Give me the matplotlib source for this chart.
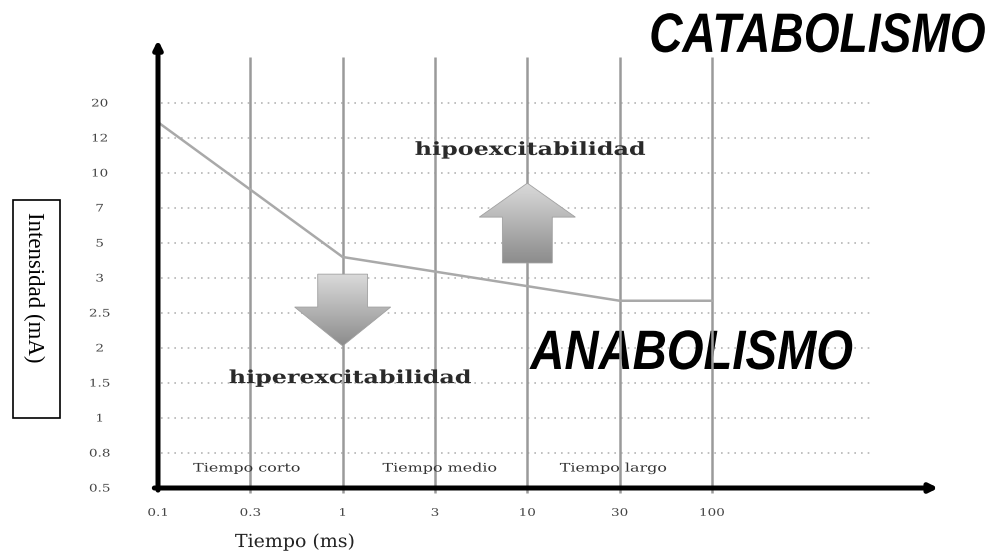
import matplotlib.pyplot as plt
import numpy as np
from matplotlib.patches import Polygon, Rectangle
from matplotlib.colors import LinearSegmentedColormap
from matplotlib.transforms import Affine2D
import matplotlib.patheffects as pe

# === MARK: Data
x_labels = ['0.1', '0.3', '1', '3', '10', '30', '100']
y_labels = ['0.5', '0.8', '1', '1.5', '2', '2.5', '3', '5', '7', '10', '12', '20']
# curve (intensity-duration), in tick-index units
curve_x = [0, 2, 5, 6]
curve_y = [10.45, 6.6, 5.35, 5.35]
zones = ['Tiempo corto', 'Tiempo medio', 'Tiempo largo']
zone_x = [0.96, 3.05, 4.93]


# === MARK: Helper: stretch text horizontally (around centre or right edge)
class Stretch(pe.AbstractPathEffect):
    def __init__(self, sx, anchor='center'):
        super().__init__()
        self.sx = sx
        self.anchor = anchor

    def draw_path(self, renderer, gc, tpath, affine, rgbFace=None):
        ext = tpath.get_extents()
        cx = ext.x1 if self.anchor == 'right' else (ext.x0 + ext.x1) / 2
        t = Affine2D().translate(-cx, 0).scale(self.sx, 1).translate(cx, 0)
        renderer.draw_path(gc, tpath, t + affine, rgbFace)


# === MARK: Figure
fig = plt.figure(figsize=(9.92, 5.52), dpi=100)
ax = fig.add_axes([158 / 992, 64 / 552, 712 / 992, 448 / 552])
ax.set_xlim(0, 712 / 92.33)
ax.set_ylim(0, 448 / 35)
for s in ax.spines.values():
    s.set_visible(False)

serif = 'DejaVu Serif'

# dotted horizontal grid
ax.hlines(range(1, len(y_labels)), 0.03, 7.71, colors='#b5b5b5',
          linestyles=(0, (1, 3)), lw=1.2, zorder=1)
# vertical gray lines at each time tick
ax.vlines(range(1, len(x_labels)), -0.15, 12.31, colors='#9a9a9a',
          lw=1.8, zorder=2, clip_on=False)

# curve
ax.plot(curve_x, curve_y, color='#a9a9a9', lw=1.8, zorder=2.5)

# ticks
ax.set_xticks(range(len(x_labels)))
ax.set_xticklabels(x_labels, fontfamily=serif, fontsize=7.5, color='#444444')
ax.tick_params(axis='x', length=0, pad=15)
ax.set_yticks(range(len(y_labels)))
ax.set_yticklabels(y_labels, fontfamily=serif, fontsize=7.5, color='#444444')
for lbl in ax.get_yticklabels():
    lbl.set_ha('center')
ax.tick_params(axis='y', length=0, pad=42)
for lbl in ax.get_xticklabels() + ax.get_yticklabels():
    lbl.set_path_effects([Stretch(1.3)])

# axes with arrows
ax.annotate('', xy=(0, 12.8), xytext=(0, -0.06), annotation_clip=False,
            arrowprops=dict(arrowstyle='-|>', lw=3.6, color='black',
                            mutation_scale=12, shrinkA=0, shrinkB=0))
ax.annotate('', xy=(8.45, 0), xytext=(-0.04, 0), annotation_clip=False,
            arrowprops=dict(arrowstyle='-|>', lw=3.6, color='black',
                            mutation_scale=12, shrinkA=0, shrinkB=0))

# === MARK: Gradient block arrows
cmap = LinearSegmentedColormap.from_list('g', ['#dadada', '#8c8c8c'])


def grad_arrow(xc, y_tail, y_tip, head_len, head_w, shaft_w):
    d = np.sign(y_tip - y_tail)
    hb = y_tip - d * head_len
    pts = [(xc - shaft_w, y_tail), (xc + shaft_w, y_tail), (xc + shaft_w, hb),
           (xc + head_w, hb), (xc, y_tip), (xc - head_w, hb), (xc - shaft_w, hb)]
    poly = Polygon(pts, closed=True, facecolor='none', edgecolor='#a0a0a0',
                   lw=0.6, zorder=4)
    ax.add_patch(poly)
    lo, hi = min(y_tail, y_tip), max(y_tail, y_tip)
    grad = np.linspace(0, 1, 200).reshape(-1, 1)
    im = ax.imshow(grad, extent=[xc - head_w, xc + head_w, lo, hi], cmap=cmap,
                   aspect='auto', origin='upper', zorder=3, vmin=0, vmax=1)
    im.set_clip_path(poly)


grad_arrow(4, 6.43, 8.71, 0.97, 0.52, 0.27)
grad_arrow(2, 6.11, 4.06, 1.11, 0.52, 0.27)
ax.set_xlim(0, 712 / 92.33)
ax.set_ylim(0, 448 / 35)

# === MARK: Labels
big = dict(fontfamily='Liberation Sans', fontweight='bold', fontstyle='italic',
           fontsize=40, color='black', va='center', clip_on=False, zorder=1)
ax.text(8.96, 12.86, 'CATABOLISMO', ha='right',
        path_effects=[Stretch(0.83, anchor='right')], **big)
ax.text(5.78, 3.8, 'ANABOLISMO', ha='center', path_effects=[Stretch(0.85)], **big)

mid = dict(fontfamily=serif, fontweight='bold', fontsize=13, color='#2a2a2a',
           ha='center', va='center', zorder=5, path_effects=[Stretch(1.32)])
ax.text(4.03, 9.66, 'hipoexcitabilidad', **mid)
ax.text(2.08, 3.14, 'hiperexcitabilidad', **mid)
for name, zx in zip(zones, zone_x):
    ax.text(zx, 0.57, name, fontfamily=serif, fontsize=8.5, color='#333333',
            ha='center', va='center', zorder=5, path_effects=[Stretch(1.35)])

ax.text(1.48, -1.54, 'Tiempo (ms)', fontfamily=serif, fontsize=13,
        color='#222222', ha='center', va='center', clip_on=False,
        path_effects=[Stretch(1.05)])

# y label in a box
fig.add_artist(Rectangle((13 / 992, 1 - 418 / 552), 47 / 992, 218 / 552,
                         transform=fig.transFigure, fc='white', ec='black', lw=1.2))
fig.text(34 / 992, 1 - 287 / 552, 'Intensidad (mA)', rotation=270,
         ha='center', va='center', fontfamily='Liberation Serif', fontsize=16.5)

plt.savefig('out.png', dpi=100)
